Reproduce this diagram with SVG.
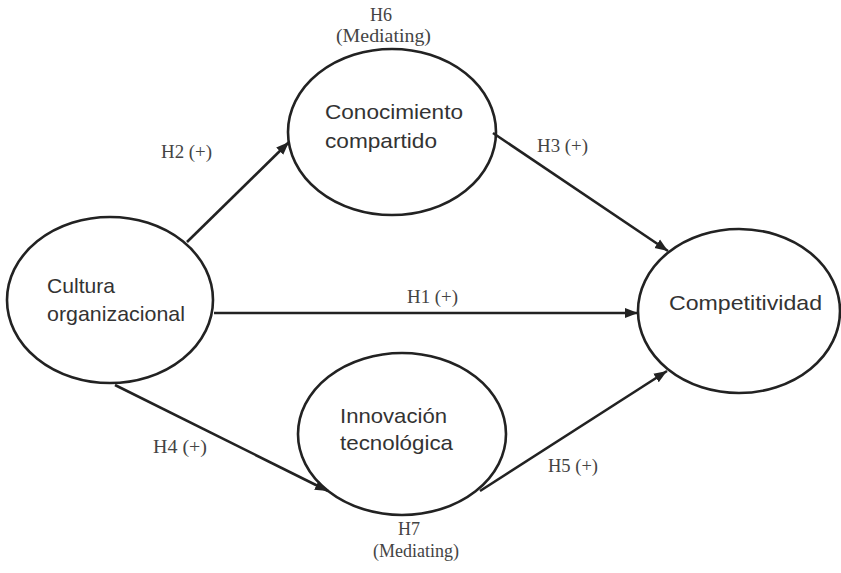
<svg xmlns="http://www.w3.org/2000/svg" width="841" height="573" viewBox="0 0 841 573">
  <style>
    .node ellipse { fill: #ffffff; stroke: #222222; stroke-width: 2.6; }
    .node text { font-family: "Liberation Sans", Arial, sans-serif; font-size: 21px; fill: #333333; }
    .edge { stroke: #222222; stroke-width: 2.6; fill: none; marker-end: url(#arrow); }
    .lbl { font-family: "Liberation Serif", "Times New Roman", serif; font-size: 18px; fill: #444444; }
  </style>
  <defs>
    <marker id="arrow" markerUnits="userSpaceOnUse" markerWidth="14" markerHeight="12" viewBox="0 0 14 12" refX="13" refY="6" orient="auto">
      <path d="M0,1 L13,6 L0,11 Z" fill="#222222"/>
    </marker>
  </defs>
  <rect width="841" height="573" fill="#ffffff"/>

  <g id="node-cultura" class="node">
    <ellipse cx="110" cy="300" rx="103" ry="83"/>
    <text x="47" y="293" textLength="68" lengthAdjust="spacingAndGlyphs">Cultura</text>
    <text x="47" y="321" textLength="138" lengthAdjust="spacingAndGlyphs">organizacional</text>
  </g>

  <g id="node-conocimiento" class="node">
    <ellipse cx="392" cy="132" rx="104" ry="83"/>
    <text x="325" y="119" textLength="138" lengthAdjust="spacingAndGlyphs">Conocimiento</text>
    <text x="325" y="148" textLength="112" lengthAdjust="spacingAndGlyphs">compartido</text>
  </g>

  <g id="node-competitividad" class="node">
    <ellipse cx="739" cy="311" rx="101" ry="82"/>
    <text x="669" y="310" textLength="153" lengthAdjust="spacingAndGlyphs">Competitividad</text>
  </g>

  <g id="node-innovacion" class="node">
    <ellipse cx="402" cy="434" rx="104" ry="81"/>
    <text x="340" y="423" textLength="107" lengthAdjust="spacingAndGlyphs">Innovación</text>
    <text x="340" y="450" textLength="113" lengthAdjust="spacingAndGlyphs">tecnológica</text>
  </g>

  <g id="connectors">
    <line class="edge" x1="187" y1="242" x2="289" y2="142"/>
    <line class="edge" x1="493" y1="133" x2="668" y2="251"/>
    <line class="edge" x1="214" y1="313" x2="638" y2="313"/>
    <line class="edge" x1="115" y1="385" x2="328" y2="491"/>
    <line class="edge" x1="480" y1="491" x2="667" y2="371"/>
  </g>

  <g id="labels">
    <text class="lbl" x="161" y="158" textLength="51" lengthAdjust="spacingAndGlyphs">H2 (+)</text>
    <text class="lbl" x="537" y="152" textLength="51" lengthAdjust="spacingAndGlyphs">H3 (+)</text>
    <text class="lbl" x="407" y="303" textLength="51" lengthAdjust="spacingAndGlyphs">H1 (+)</text>
    <text class="lbl" x="153" y="453" textLength="54" lengthAdjust="spacingAndGlyphs">H4 (+)</text>
    <text class="lbl" x="548" y="472" textLength="50" lengthAdjust="spacingAndGlyphs">H5 (+)</text>
    <text class="lbl" x="381" y="21" text-anchor="middle">H6</text>
    <text class="lbl" x="336" y="42" textLength="95" lengthAdjust="spacingAndGlyphs">(Mediating)</text>
    <text class="lbl" x="409" y="535" text-anchor="middle">H7</text>
    <text class="lbl" x="373" y="557" textLength="86" lengthAdjust="spacingAndGlyphs">(Mediating)</text>
  </g>
</svg>
